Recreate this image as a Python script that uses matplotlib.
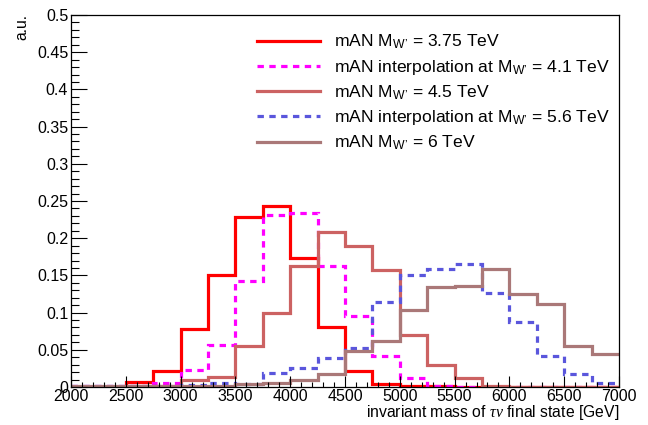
import numpy as np
import matplotlib
matplotlib.use("Agg")
import matplotlib.pyplot as plt
from matplotlib.ticker import MultipleLocator

plt.rcParams['font.family'] = ['Liberation Sans', 'DejaVu Sans']
plt.rcParams['mathtext.fontset'] = 'custom'
plt.rcParams['mathtext.rm'] = 'Liberation Sans'
plt.rcParams['mathtext.it'] = 'Liberation Serif:italic'

edges = np.arange(2000, 7001, 250)

mass_375 = [0.0, 0.0, 0.007, 0.021, 0.078, 0.151, 0.229, 0.243, 0.174, 0.081,
            0.021, 0.004, 0.002, 0.001, 0.0, 0.0, 0.0, 0.0, 0.0, 0.0]
interp_41 = [0.001, 0.001, 0.002, 0.006, 0.023, 0.056, 0.142, 0.231, 0.234, 0.163,
             0.096, 0.042, 0.012, 0.001, 0.0, 0.0, 0.0, 0.0, 0.0, 0.0]
mass_45 = [0.0, 0.0, 0.001, 0.002, 0.009, 0.014, 0.055, 0.100, 0.163, 0.208,
           0.189, 0.157, 0.070, 0.030, 0.0125, 0.001, 0.0, 0.0, 0.0, 0.0]
interp_56 = [0.001, 0.001, 0.001, 0.002, 0.003, 0.005, 0.004, 0.019, 0.026, 0.039,
             0.053, 0.114, 0.151, 0.158, 0.165, 0.127, 0.087, 0.041, 0.017, 0.006]
mass_6 = [0.001, 0.001, 0.001, 0.001, 0.001, 0.002, 0.004, 0.006, 0.009, 0.017,
          0.048, 0.062, 0.103, 0.134, 0.136, 0.158, 0.125, 0.111, 0.055, 0.045]

sub = "M$_{\\mathregular{W\u2019}}$"
labels = [
    "mAN " + sub + " = 3.75 TeV",
    "mAN interpolation at " + sub + " = 4.1 TeV",
    "mAN " + sub + " = 4.5 TeV",
    "mAN interpolation at " + sub + " = 5.6 TeV",
    "mAN " + sub + " = 6 TeV",
]
series = [mass_375, interp_41, mass_45, interp_56, mass_6]
colors = ['#FF0000', '#FF00FF', '#CC6262', '#5A56DC', '#AA7878']
dashed = [False, True, False, True, False]

fig = plt.figure(figsize=(6.48, 4.25), dpi=100)
ax = fig.add_axes([71/648, 1-387/425, 548/648, 372/425])

lw = 2.3
for vals, lab, c, d in zip(series, labels, colors, dashed):
    st = ax.stairs(vals, edges, baseline=None, color=c, linewidth=lw, label=lab)
    if d:
        st.set_linestyle((0, (2.0, 1.7)))

ax.set_xlim(2000, 7000)
ax.set_ylim(0, 0.5)
ax.xaxis.set_major_locator(MultipleLocator(500))
ax.xaxis.set_minor_locator(MultipleLocator(100))
ax.yaxis.set_major_locator(MultipleLocator(0.05))
ax.yaxis.set_minor_locator(MultipleLocator(0.01))
ax.yaxis.set_major_formatter(plt.FuncFormatter(lambda v, p: ('%g' % round(v, 3))))
ax.tick_params(axis='x', which='major', direction='in', length=7.7, width=0.8,
               labelsize=11.5, pad=1.5, top=False)
ax.tick_params(axis='x', which='minor', direction='in', length=3.6, width=0.8, top=False)
ax.tick_params(axis='y', which='major', direction='in', length=11.3, width=0.8,
               labelsize=11.5, pad=2, right=False)
ax.tick_params(axis='y', which='minor', direction='in', length=6, width=0.8, right=False)
for s in ax.spines.values():
    s.set_linewidth(0.9)

fig.text(619/648, 1-413/425, r"invariant mass of $\tau\nu$ final state [GeV]",
         ha='right', va='center', fontsize=11.3)
fig.text(22/648, 1-14/425, "a.u.", rotation=90, ha='center', va='top', fontsize=11.3)

leg = ax.legend(loc='upper left', bbox_to_anchor=((257-71)/548, 1 - 18/372), frameon=False,
                fontsize=12.6, handlelength=3.6, handletextpad=0.8, labelspacing=0.37,
                borderaxespad=0, borderpad=0)

fig.savefig("out.png", dpi=100)
